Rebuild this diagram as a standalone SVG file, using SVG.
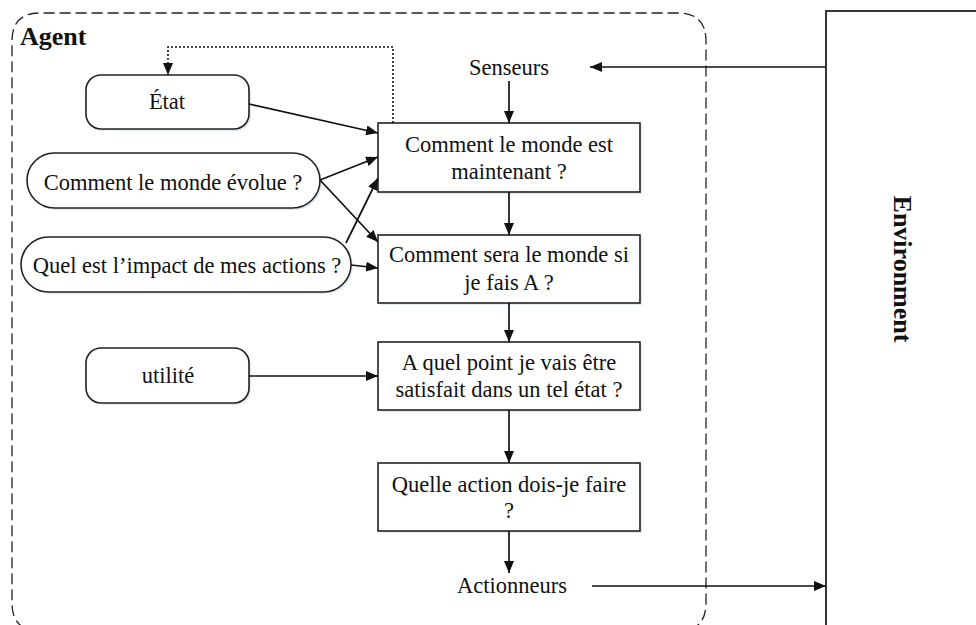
<svg xmlns="http://www.w3.org/2000/svg" width="976" height="625" viewBox="0 0 976 625">
  <style>
    text { font-family: "Liberation Serif", "Times New Roman", serif; font-size: 22.5px; fill: #111; text-anchor: middle; }
    .bold { font-weight: bold; font-size: 26px; }
    .node { fill: #fff; stroke: #222; stroke-width: 1.6; }
    .shadow { fill: #e4eaf1; stroke: none; }
    .edge { fill: none; stroke: #111; stroke-width: 1.7; }
    .dotted { fill: none; stroke: #111; stroke-width: 1.6; stroke-dasharray: 2 2; }
    .frame { fill: none; stroke: #222; stroke-width: 1.3; stroke-dasharray: 11 5; }
  </style>
  <defs>
    <marker id="arrow" viewBox="0 0 12 10" refX="12" refY="5" markerWidth="12" markerHeight="10" markerUnits="userSpaceOnUse" orient="auto">
      <path d="M0,0 L12,5 L0,10 Z" fill="#111"/>
    </marker>
  </defs>

  <rect width="976" height="625" fill="#fff"/>

  <!-- Agent frame -->
  <g id="agent">
    <path class="frame" d="M40,631 Q12,631 12,603 L12,41 Q12,13 40,13 L678,13 Q706,13 706,41 L706,603 Q706,631 678,631"/>
    <text class="bold" x="20" y="45" style="text-anchor:start">Agent</text>
  </g>

  <!-- Environment -->
  <g id="environment">
    <rect x="826" y="11" width="170" height="640" fill="#fff" stroke="#222" stroke-width="1.8"/>
    <text class="bold" transform="translate(894,269) rotate(90)">Environment</text>
  </g>

  <!-- Left-hand knowledge nodes -->
  <g id="etat">
    <rect class="shadow" x="88" y="77" width="163" height="54" rx="15"/>
    <rect class="node" x="86" y="75" width="163" height="54" rx="15"/>
    <text x="167" y="109">État</text>
  </g>
  <g id="evolution">
    <rect class="shadow" x="29" y="155" width="293" height="55" rx="27.5"/>
    <rect class="node" x="27" y="153" width="293" height="55" rx="27.5"/>
    <text x="173" y="190">Comment le monde évolue ?</text>
  </g>
  <g id="impact">
    <rect class="shadow" x="23" y="239" width="330" height="55" rx="27.5"/>
    <rect class="node" x="21" y="237" width="330" height="55" rx="27.5"/>
    <text x="187" y="273">Quel est l’impact de mes actions ?</text>
  </g>
  <g id="utilite">
    <rect class="shadow" x="88" y="350" width="163" height="55" rx="15"/>
    <rect class="node" x="86" y="348" width="163" height="55" rx="15"/>
    <text x="168" y="383">utilité</text>
  </g>

  <!-- Central chain -->
  <g id="senseurs">
    <text x="509" y="75">Senseurs</text>
  </g>
  <g id="etat-courant">
    <rect class="shadow" x="380" y="125" width="262" height="69"/>
    <rect class="node" x="378" y="123" width="262" height="69"/>
    <text x="509" y="152">Comment le monde est</text>
    <text x="509" y="179">maintenant ?</text>
  </g>
  <g id="prediction">
    <rect class="shadow" x="380" y="237" width="262" height="68"/>
    <rect class="node" x="378" y="235" width="262" height="68"/>
    <text x="509" y="262">Comment sera le monde si</text>
    <text x="509" y="290">je fais A ?</text>
  </g>
  <g id="satisfaction">
    <rect class="shadow" x="380" y="344" width="262" height="68"/>
    <rect class="node" x="378" y="342" width="262" height="68"/>
    <text x="509" y="370">A quel point je vais être</text>
    <text x="509" y="397">satisfait dans un tel état ?</text>
  </g>
  <g id="decision">
    <rect class="shadow" x="380" y="465" width="262" height="68"/>
    <rect class="node" x="378" y="463" width="262" height="68"/>
    <text x="509" y="492">Quelle action dois-je faire</text>
    <text x="509" y="518">?</text>
  </g>
  <g id="actionneurs">
    <text x="512" y="593">Actionneurs</text>
  </g>

  <!-- Connectors -->
  <g id="connectors">
    <path class="edge" d="M826,67 L590,67" marker-end="url(#arrow)"/>
    <path class="edge" d="M509,81 L509,123" marker-end="url(#arrow)"/>
    <path class="dotted" d="M393,123 L393,47 L168,47 L168,75" marker-end="url(#arrow)"/>
    <path class="edge" d="M249,104 L378,133" marker-end="url(#arrow)"/>
    <path class="edge" d="M320,180 L378,157" marker-end="url(#arrow)"/>
    <path class="edge" d="M346,243 L378,178" marker-end="url(#arrow)"/>
    <path class="edge" d="M320,180 L378,242" marker-end="url(#arrow)"/>
    <path class="edge" d="M351,265 L378,268" marker-end="url(#arrow)"/>
    <path class="edge" d="M249,376 L378,376" marker-end="url(#arrow)"/>
    <path class="edge" d="M509,192 L509,235" marker-end="url(#arrow)"/>
    <path class="edge" d="M509,303 L509,342" marker-end="url(#arrow)"/>
    <path class="edge" d="M509,410 L509,463" marker-end="url(#arrow)"/>
    <path class="edge" d="M509,531 L509,573" marker-end="url(#arrow)"/>
    <path class="edge" d="M592,586 L826,586" marker-end="url(#arrow)"/>
  </g>
</svg>
